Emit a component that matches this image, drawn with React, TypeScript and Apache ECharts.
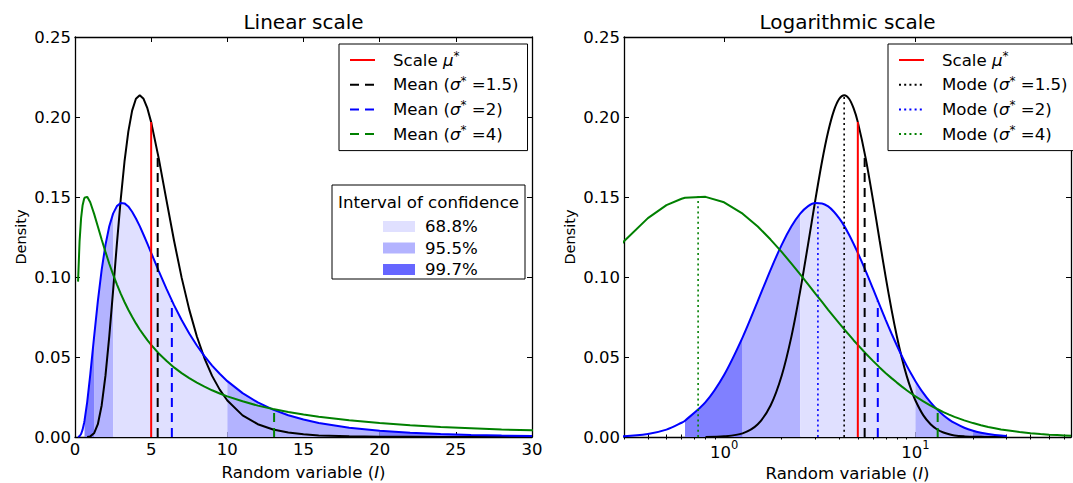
import React, { useEffect, useRef } from 'react';
import * as echarts from 'echarts';

// ---- data (log-normal densities, scale mu* = 5) ----
const xs = [
  0.2, 0.3, 0.4, 0.5, 0.6, 0.625, 0.8,
  1, 1.25, 1.5, 1.75, 2, 2.25, 2.5, 2.75, 3, 3.25, 3.5, 3.75, 4, 4.25, 4.5, 4.75, 5,
  5.5, 6, 6.5, 7, 7.5, 8, 8.5, 9, 9.5, 10,
  11, 12, 13, 14, 15, 16,
  18, 20, 22, 24, 26, 28, 30,
];
// sigma* = 1.5 (black)
const pdfSigma15: (number | null)[] = [
  null, null, null, null, null, null, 0,
  0.0004, 0.0023, 0.008, 0.0197, 0.0383, 0.0629, 0.0913, 0.1207, 0.1483, 0.1722, 0.1909, 0.204, 0.2114, 0.2136, 0.2114, 0.2055, 0.1968,
  0.174, 0.1482, 0.1228, 0.0996, 0.0796, 0.0628, 0.0492, 0.0382, 0.0296, 0.0228,
  0.0135, 0.008, 0.0047, 0.0028, 0.0017, 0.001,
  0.0004, 0.0001, 0.0001, 0, 0, 0, 0,
];
// sigma* = 2 (blue)
const pdfSigma2: (number | null)[] = [
  0.0001, 0.0005, 0.0019, 0.0046, 0.0089, 0.0102, 0.0218,
  0.0388, 0.0623, 0.0849, 0.1045, 0.1201, 0.1317, 0.1396, 0.1443, 0.1462, 0.146, 0.1441, 0.1408, 0.1366, 0.1318, 0.1264, 0.1208, 0.1151,
  0.1037, 0.0927, 0.0824, 0.0731, 0.0647, 0.0572, 0.0505, 0.0446, 0.0395, 0.0349,
  0.0274, 0.0216, 0.0171, 0.0136, 0.0109, 0.0088,
  0.0058, 0.0039, 0.0027, 0.0019, 0.0013, 0.0009, 0.0007,
];
// sigma* = 4 (green)
const pdfSigma4: (number | null)[] = [
  0.0971, 0.1223, 0.1368, 0.1449, 0.1489, 0.1495, 0.1501,
  0.1467, 0.1396, 0.1316, 0.1234, 0.1157, 0.1083, 0.1016, 0.0954, 0.0896, 0.0844, 0.0795, 0.0751, 0.071, 0.0672, 0.0638, 0.0605, 0.0576,
  0.0522, 0.0476, 0.0435, 0.0399, 0.0368, 0.034, 0.0315, 0.0292, 0.0272, 0.0254,
  0.0223, 0.0196, 0.0175, 0.0156, 0.014, 0.0126,
  0.0104, 0.0087, 0.0074, 0.0063, 0.0055, 0.0047, 0.0042,
];
const tailX = [35, 40, 45, 50, 55, 60, 65];
const tailSigma4 = [0.0031, 0.0023, 0.0018, 0.0014, 0.0012, 0.001, 0.0008];

const sigmaLabels = ['1.5', '2', '4'];
const scaleMu = 5;
const scaleTop = 0.1968;
const meanX = [5.428, 6.358, 13.07];
const meanTop = [0.1776, 0.0852, 0.0173];
const modeX = [4.242, 3.093, 0.7318];
const modeTop = [0.2136, 0.1464, 0.1504];

const intervalLabels = ['68.8%', '95.5%', '99.7%'];
const intervalStarts = [0.625, 1.25, 2.5, 10, 20];
const intervalEnds = [1.25, 2.5, 10, 20, 40];
const intervalLevel = [2, 1, 0, 1, 2];

const logMajorTicks = [1, 10];
const logMinorTicks = [0.3, 0.4, 0.5, 0.6, 0.7, 0.8, 0.9, 2, 3, 4, 5, 6, 7, 8, 9, 20, 30, 40, 50, 60];

// ---- styles ----
const FONT = "'DejaVu Sans', sans-serif";
const curveColors = ['#000000', '#0000ff', '#008000'];
const fillColors = ['#e0e0ff', '#b3b3ff', '#8080ff'];
const patchColors = ['#e0e0ff', '#b3b3ff', '#6666ff'];
const DASH = [9, 6];
const DOT = [2, 3.2];

function pairs(xv: number[], yv: (number | null)[]): number[][] {
  const out: number[][] = [];
  xv.forEach((x, i) => {
    const y = yv[i];
    if (y !== null && y !== undefined) out.push([x, y]);
  });
  return out;
}

const mathRich = {
  i: { fontStyle: 'italic', fontSize: 16.6, fontFamily: FONT, color: '#000' },
  sup: { fontSize: 12, fontFamily: FONT, color: '#000', padding: [0, 0, 8, 0] },
};
const legendFmt = (name: string) =>
  name.replace('μ*', '{i|μ}{sup|*}').replace('σ*', '{i|σ}{sup|*} ');

function panelSeries(xi: number, yi: number, isLog: boolean) {
  const s: any[] = [];
  const blue = pairs(xs, pdfSigma2);
  intervalStarts.forEach((a, k) => {
    const b = intervalEnds[k];
    const lvl = intervalLevel[k];
    s.push({
      type: 'line', name: intervalLabels[lvl], xAxisIndex: xi, yAxisIndex: yi,
      data: blue.filter((p) => p[0] >= a && p[0] <= b),
      symbol: 'none', showSymbol: false, smooth: isLog ? 0.3 : false,
      lineStyle: { width: 0, opacity: 0 },
      itemStyle: { color: fillColors[lvl] },
      areaStyle: { color: fillColors[lvl], opacity: 1 },
      z: 1, silent: true,
    });
  });
  const curveData = [
    pairs(xs, pdfSigma15),
    blue,
    pairs(xs, pdfSigma4).concat(pairs(tailX, tailSigma4)),
  ];
  curveData.forEach((d, k) => {
    s.push({
      type: 'line', name: `σ*=${sigmaLabels[k]}`, xAxisIndex: xi, yAxisIndex: yi,
      data: d, symbol: 'none', showSymbol: false,
      smooth: isLog && k < 2 ? 0.3 : false,
      lineStyle: { color: curveColors[k], width: 2 },
      itemStyle: { color: curveColors[k] },
      z: 2, silent: true,
    });
  });
  s.push({
    type: 'line', name: 'Scale μ*', xAxisIndex: xi, yAxisIndex: yi,
    data: [[scaleMu, 0], [scaleMu, scaleTop]], symbol: 'none', showSymbol: false,
    lineStyle: { color: '#ff0000', width: 2, type: 'solid' },
    itemStyle: { color: '#ff0000' }, z: 3, silent: true,
  });
  meanX.forEach((m, k) => {
    s.push({
      type: 'line', name: `Mean (σ*=${sigmaLabels[k]})`, xAxisIndex: xi, yAxisIndex: yi,
      data: [[m, 0], [m, meanTop[k]]], symbol: 'none', showSymbol: false,
      lineStyle: { color: curveColors[k], width: 2, type: DASH },
      itemStyle: { color: curveColors[k] }, z: 3, silent: true,
    });
  });
  if (isLog) {
    modeX.forEach((m, k) => {
      s.push({
        type: 'line', name: `Mode (σ*=${sigmaLabels[k]})`, xAxisIndex: xi, yAxisIndex: yi,
        data: [[m, 0], [m, modeTop[k]]], symbol: 'none', showSymbol: false,
        lineStyle: { color: curveColors[k], width: 1.6, type: DOT },
        itemStyle: { color: curveColors[k] }, z: 3, silent: true,
      });
    });
  }
  return s;
}

const axisLine = { show: true, onZero: false, lineStyle: { color: '#000', width: 1.3 } };
const tickStyle = { color: '#000', width: 1 };
const labelStyle = { color: '#000', fontSize: 16.5, fontFamily: FONT };
const xName = 'Random variable ({i|I})';
const xNameStyle = {
  color: '#000', fontSize: 16.6, fontFamily: FONT,
  rich: { i: { fontStyle: 'italic', fontSize: 16.6, fontFamily: FONT, color: '#000' } },
};

function linearX(position: string, withLabels: boolean) {
  return {
    type: 'value', gridIndex: 0, position, min: 0, max: 30, interval: 5,
    axisLine,
    axisTick: { show: true, inside: true, length: 5, lineStyle: tickStyle },
    axisLabel: { show: withLabels, ...labelStyle, margin: 4 },
    splitLine: { show: false },
    ...(withLabels ? { name: xName, nameLocation: 'middle', nameGap: 27, nameTextStyle: xNameStyle } : {}),
  };
}

function logX(position: string, major: boolean, withLabels: boolean) {
  return {
    type: 'log', logBase: 10, gridIndex: 1, position, min: 0.3, max: 65,
    axisLine: major ? axisLine : { show: false },
    axisTick: {
      show: true, inside: true, length: major ? 5 : 2.5, lineStyle: tickStyle,
      customValues: major ? logMajorTicks : logMinorTicks,
    },
    axisLabel: withLabels
      ? {
          show: true, ...labelStyle, margin: 2, customValues: logMajorTicks,
          formatter: (v: number) => `{b|10}{s|${Math.round(Math.log10(v))}}`,
          rich: {
            b: { fontSize: 16.5, fontFamily: FONT, color: '#000' },
            s: { fontSize: 11.5, fontFamily: FONT, color: '#000', padding: [0, 0, 14, 0] },
          },
        }
      : { show: false },
    splitLine: { show: false },
    minorTick: { show: false },
    ...(withLabels ? { name: xName, nameLocation: 'middle', nameGap: 27, nameTextStyle: xNameStyle } : {}),
  };
}

function yAx(grid: number, position: string, withLabels: boolean) {
  return {
    type: 'value', gridIndex: grid, position, min: 0, max: 0.25, interval: 0.05,
    axisLine,
    axisTick: { show: true, inside: true, length: 5, lineStyle: tickStyle },
    axisLabel: withLabels
      ? { show: true, ...labelStyle, margin: 4, formatter: (v: number) => v.toFixed(2) }
      : { show: false },
    splitLine: { show: false },
    ...(withLabels
      ? { name: 'Density', nameLocation: 'middle', nameGap: 47, nameTextStyle: { color: '#000', fontSize: 14.5, fontFamily: FONT } }
      : {}),
  };
}

function lineLegend(left: number, textWidth: number, names: string[]) {
  return {
    orient: 'vertical', left, top: 44, padding: [6, 9, 8, 10],
    itemWidth: 25, itemHeight: 20, itemGap: 6.2,
    backgroundColor: '#fff', borderColor: '#000', borderWidth: 1, borderRadius: 0,
    data: names, formatter: legendFmt, selectedMode: false,
    textStyle: {
      fontSize: 16.6, fontFamily: FONT, color: '#000', padding: [0, 0, 0, 13],
      width: textWidth, overflow: 'none', rich: mathRich,
    },
    itemStyle: { opacity: 0 },
    z: 10,
  };
}

function buildOption() {
  return {
    animation: false,
    textStyle: { fontFamily: FONT },
    grid: [
      { left: 75, top: 37, width: 457, height: 400, containLabel: false, outerBoundsMode: 'none' },
      { left: 624, top: 37, width: 447, height: 400, containLabel: false, outerBoundsMode: 'none' },
    ],
    xAxis: [
      linearX('bottom', true),
      linearX('top', false),
      logX('bottom', true, true),
      logX('bottom', false, false),
      logX('top', true, false),
      logX('top', false, false),
    ],
    yAxis: [yAx(0, 'left', true), yAx(0, 'right', false), yAx(1, 'left', true), yAx(1, 'right', false)],
    legend: [
      lineLegend(339, 123, ['Scale μ*', 'Mean (σ*=1.5)', 'Mean (σ*=2)', 'Mean (σ*=4)']),
      lineLegend(888, 120, ['Scale μ*', 'Mode (σ*=1.5)', 'Mode (σ*=2)', 'Mode (σ*=4)']),
      {
        orient: 'vertical', left: 383, top: 218, padding: 0,
        itemWidth: 32, itemHeight: 11, itemGap: 4.5, selectedMode: false,
        data: intervalLabels.map((n, i) => ({ name: n, icon: 'rect', itemStyle: { color: patchColors[i], borderWidth: 0 } })),
        textStyle: { fontSize: 16.6, fontFamily: FONT, color: '#000', lineHeight: 17, padding: [0, 0, 0, 5] },
        itemStyle: { borderWidth: 0 },
        z: 10,
      },
    ],
    graphic: [
      {
        type: 'text', x: 303.5, y: 22, z: 10,
        style: { text: 'Linear scale', fontSize: 20, fontFamily: FONT, fill: '#000', align: 'center', verticalAlign: 'middle', textAlign: 'center', textVerticalAlign: 'middle' },
      },
      {
        type: 'text', x: 847.5, y: 22, z: 10,
        style: { text: 'Logarithmic scale', fontSize: 20, fontFamily: FONT, fill: '#000', align: 'center', verticalAlign: 'middle', textAlign: 'center', textVerticalAlign: 'middle' },
      },
      {
        type: 'rect', z: 5, shape: { x: 332, y: 185, width: 193, height: 94 },
        style: { fill: '#fff', stroke: '#000', lineWidth: 1 },
      },
      {
        type: 'text', x: 428.5, y: 202, z: 6,
        style: { text: 'Interval of confidence', fontSize: 16.6, fontFamily: FONT, fill: '#000', align: 'center', verticalAlign: 'middle', textAlign: 'center', textVerticalAlign: 'middle' },
      },
    ],
    series: [...panelSeries(0, 0, false), ...panelSeries(2, 2, true)],
  };
}

export default function App() {
  const ref = useRef<HTMLDivElement>(null);
  useEffect(() => {
    if (!ref.current) return;
    document.body.style.margin = '0';
    const chart = echarts.init(ref.current, null, { renderer: 'svg' });
    chart.setOption(buildOption() as any);
    return () => chart.dispose();
  }, []);
  return <div ref={ref} style={{ position: 'absolute', left: 0, top: 0, width: 1073, height: 483 }} />;
}
